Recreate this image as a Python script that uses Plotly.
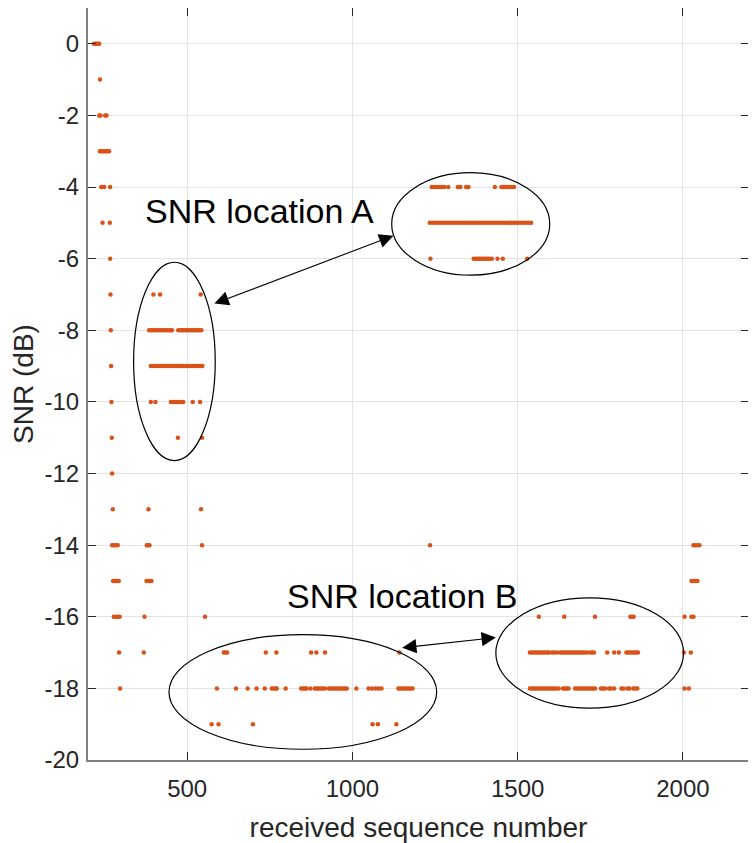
import plotly.graph_objects as go

# received sequence numbers observed at each SNR level (dB)
seq_snr_0 = [218, 222, 226, 230, 234]
seq_snr_m1 = [236]
seq_snr_m2 = [234, 238, 252, 256]
seq_snr_m3 = [236, 240, 244, 248, 252, 256, 260, 264]
seq_snr_m4 = [240, 244, 249, 267,
              1240, 1246, 1252, 1258, 1264, 1270, 1278, 1290, 1319, 1327, 1344, 1351,
              1431, 1451, 1457, 1463, 1469, 1475, 1481, 1489]
seq_snr_m5 = [244, 266,
              1234, 1242, 1250, 1258, 1266, 1274, 1282, 1290, 1298, 1306, 1314, 1322,
              1330, 1338, 1346, 1354, 1362, 1370, 1378, 1386, 1394, 1402, 1410, 1418,
              1426, 1434, 1442, 1450, 1458, 1466, 1474, 1479, 1486, 1494, 1502, 1510,
              1518, 1526, 1534, 1541]
seq_snr_m6 = [267, 1236, 1367, 1373, 1379, 1385, 1391, 1397, 1403, 1409, 1414,
              1422, 1439, 1455, 1529]
seq_snr_m7 = [268, 398, 418, 541]
seq_snr_m8 = [269, 385, 391, 397, 403, 409, 415, 421, 427, 433, 439, 445, 451, 454,
              473, 479, 485, 488, 495, 501, 507, 513, 519, 525, 531, 537, 543]
seq_snr_m9 = [270, 390, 397, 404, 411, 418, 425, 432, 439, 446, 453, 460, 467, 474,
              481, 488, 495, 502, 509, 516, 523, 530, 537, 543, 546]
seq_snr_m10 = [271, 390, 404, 451, 457, 463, 469, 475, 481, 488, 517, 539]
seq_snr_m11 = [272, 472, 545]
seq_snr_m12 = [273]
seq_snr_m13 = [275, 383, 542]
seq_snr_m14 = [273, 278, 284, 290, 378, 382, 386, 545, 1235, 2032, 2038, 2044, 2050]
seq_snr_m15 = [276, 281, 287, 293, 377, 382, 387, 392, 2026, 2032, 2038, 2044]
seq_snr_m16 = [278, 284, 290, 296, 371, 554, 1564, 1641, 1734, 1841, 1846, 1851,
               2005, 2026, 2032]
seq_snr_m17 = [294, 369, 611, 616, 621, 738, 770, 875, 891, 917, 1142,
               1537, 1543, 1549, 1555, 1561, 1567, 1573, 1579, 1585, 1591, 1594,
               1604, 1610, 1619, 1629, 1635, 1641, 1647, 1653, 1659, 1665, 1671, 1677,
               1683, 1689, 1695, 1701, 1709, 1719, 1725, 1731, 1771, 1792, 1806,
               1829, 1835, 1841, 1847, 1853, 1859, 1864, 2003, 2024]
seq_snr_m18 = [297, 590, 648, 683, 710, 735, 756, 762, 768, 771, 798, 845, 851, 857,
               861, 873, 886, 892, 898, 904, 910, 917, 929, 935, 941, 947, 953, 959,
               965, 971, 977, 983, 1012, 1049, 1059, 1070, 1079, 1088, 1139, 1145,
               1151, 1157, 1163, 1169, 1175, 1182,
               1537, 1543, 1549, 1555, 1561, 1567, 1573, 1579, 1585, 1591, 1597,
               1603, 1609, 1615, 1624, 1637, 1643, 1649, 1654, 1674, 1680, 1686,
               1692, 1698, 1704, 1710, 1716, 1722, 1728, 1734, 1752, 1758, 1764,
               1776, 1782, 1792, 1814, 1820, 1832, 1838, 1850, 1856, 1862, 2005, 2018]
seq_snr_m19 = [574, 595, 699, 1061, 1077, 1133]

levels = [
    (0, seq_snr_0), (-1, seq_snr_m1), (-2, seq_snr_m2), (-3, seq_snr_m3),
    (-4, seq_snr_m4), (-5, seq_snr_m5), (-6, seq_snr_m6), (-7, seq_snr_m7),
    (-8, seq_snr_m8), (-9, seq_snr_m9), (-10, seq_snr_m10), (-11, seq_snr_m11),
    (-12, seq_snr_m12), (-13, seq_snr_m13), (-14, seq_snr_m14), (-15, seq_snr_m15),
    (-16, seq_snr_m16), (-17, seq_snr_m17), (-18, seq_snr_m18), (-19, seq_snr_m19),
]

x_vals, y_vals = [], []
for snr, seqs in levels:
    x_vals += seqs
    y_vals += [snr] * len(seqs)

x_ticks = [500, 1000, 1500, 2000]
y_ticks = list(range(-20, 1, 2))

fig = go.Figure()
fig.add_trace(go.Scatter(
    x=x_vals, y=y_vals, mode="markers",
    marker=dict(color="#D95319", size=4.5, line=dict(width=0)),
    showlegend=False, hoverinfo="x+y",
))

FONT = "Liberation Sans, Arial, Helvetica, sans-serif"

# ellipses highlighting SNR locations
ellipses = [
    (338, 585, -6.1, -11.64),
    (1119, 1597, -3.6, -6.46),
    (445, 1255, -16.5, -19.7),
    (1434, 2002, -15.47, -18.55),
]
for x0, x1, y0, y1 in ellipses:
    fig.add_shape(type="circle", xref="x", yref="y", x0=x0, x1=x1, y0=y0, y1=y1,
                  line=dict(color="black", width=1.2))

# double-headed arrows
arrows = [((578, -7.27), (1124, -5.36)), ((1146, -16.87), (1434, -16.58))]
for (xa, ya), (xb, yb) in arrows:
    fig.add_annotation(x=xb, y=yb, ax=xa, ay=ya, xref="x", yref="y", axref="x", ayref="y",
                       text="", showarrow=True, arrowhead=2, startarrowhead=2,
                       arrowside="end+start", arrowsize=2.6, startarrowsize=2.6,
                       arrowwidth=1.1, arrowcolor="black")

fig.add_annotation(x=718, y=-4.68, xref="x", yref="y", text="SNR location A",
                   showarrow=False, font=dict(family=FONT, size=34, color="black"))
fig.add_annotation(x=1151, y=-15.42, xref="x", yref="y", text="SNR location B",
                   showarrow=False, font=dict(family=FONT, size=34, color="black"))

axis_common = dict(
    showgrid=True, gridcolor="#e3e3e3", gridwidth=1,
    showline=True, linecolor="#808080", linewidth=2, mirror="ticks",
    ticks="inside", ticklen=8, tickcolor="#262626", tickwidth=1,
    tickfont=dict(family=FONT, size=24, color="#262626"),
    zeroline=False, automargin=False,
)

# the page body adds an 8 px offset, so the figure is sized to fit the window
fig.update_layout(
    width=748, height=835,
    margin=dict(l=80, r=7, t=0, b=83),
    paper_bgcolor="white", plot_bgcolor="white",
    xaxis=dict(range=[200, 2200], tickvals=x_ticks, ticktext=[str(v) for v in x_ticks],
               ticklabelstandoff=6,
               title=dict(text="received sequence number", standoff=17,
                          font=dict(family=FONT, size=28, color="#262626")),
               **axis_common),
    yaxis=dict(range=[-20, 1], tickvals=y_ticks, ticktext=[str(v) for v in y_ticks],
               ticklabelstandoff=2,
               title=dict(text="SNR (dB)", standoff=6,
                          font=dict(family=FONT, size=28, color="#262626")),
               **axis_common),
)

fig.write_html("out.html")
